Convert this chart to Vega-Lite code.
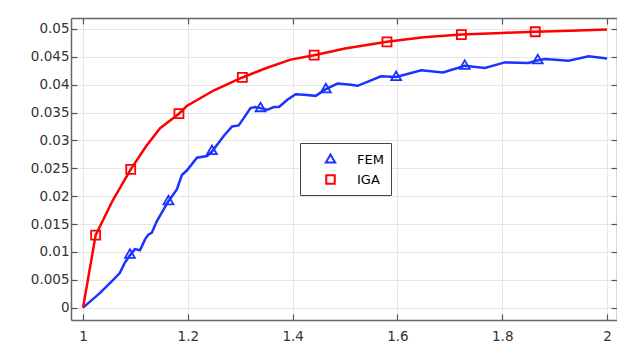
{
  "$schema": "https://vega.github.io/schema/vega-lite/v6.json",
  "width": 546,
  "height": 302,
  "autosize": "none",
  "padding": {"left": 71, "top": 18, "right": 0, "bottom": 25},
  "background": "white",
  "config": {
    "view": {"stroke": null},
    "font": "DejaVu Sans",
    "axis": {
      "labelFont": "DejaVu Sans",
      "labelFontSize": 13.5,
      "labelColor": "#333333",
      "domainColor": "#666666",
      "domainWidth": 1.5,
      "tickColor": "#555555",
      "tickWidth": 1.2,
      "tickSize": -6,
      "gridColor": "#e6e6e6",
      "gridWidth": 1,
      "title": null
    }
  },
  "datasets": {
    "curves": [
      {"x": 1.000, "y": 0.0000, "series": "FEM"},
      {"x": 1.032, "y": 0.0026, "series": "FEM"},
      {"x": 1.0575, "y": 0.0050, "series": "FEM"},
      {"x": 1.070, "y": 0.0062, "series": "FEM"},
      {"x": 1.080, "y": 0.0081, "series": "FEM"},
      {"x": 1.0895, "y": 0.0094, "series": "FEM"},
      {"x": 1.099, "y": 0.0105, "series": "FEM"},
      {"x": 1.1087, "y": 0.0103, "series": "FEM"},
      {"x": 1.118, "y": 0.0122, "series": "FEM"},
      {"x": 1.1246, "y": 0.0131, "series": "FEM"},
      {"x": 1.131, "y": 0.0134, "series": "FEM"},
      {"x": 1.1407, "y": 0.0155, "series": "FEM"},
      {"x": 1.150, "y": 0.0170, "series": "FEM"},
      {"x": 1.163, "y": 0.0191, "series": "FEM"},
      {"x": 1.179, "y": 0.0212, "series": "FEM"},
      {"x": 1.1886, "y": 0.0238, "series": "FEM"},
      {"x": 1.198, "y": 0.0246, "series": "FEM"},
      {"x": 1.2174, "y": 0.0269, "series": "FEM"},
      {"x": 1.2365, "y": 0.0272, "series": "FEM"},
      {"x": 1.246, "y": 0.0280, "series": "FEM"},
      {"x": 1.2588, "y": 0.0296, "series": "FEM"},
      {"x": 1.2684, "y": 0.0308, "series": "FEM"},
      {"x": 1.2845, "y": 0.0325, "series": "FEM"},
      {"x": 1.297, "y": 0.0327, "series": "FEM"},
      {"x": 1.3067, "y": 0.0340, "series": "FEM"},
      {"x": 1.3195, "y": 0.0358, "series": "FEM"},
      {"x": 1.329, "y": 0.0360, "series": "FEM"},
      {"x": 1.3387, "y": 0.0358, "series": "FEM"},
      {"x": 1.3515, "y": 0.0355, "series": "FEM"},
      {"x": 1.364, "y": 0.0360, "series": "FEM"},
      {"x": 1.374, "y": 0.0360, "series": "FEM"},
      {"x": 1.3898, "y": 0.0373, "series": "FEM"},
      {"x": 1.4058, "y": 0.0383, "series": "FEM"},
      {"x": 1.4217, "y": 0.0382, "series": "FEM"},
      {"x": 1.444, "y": 0.0380, "series": "FEM"},
      {"x": 1.4633, "y": 0.0392, "series": "FEM"},
      {"x": 1.4857, "y": 0.0402, "series": "FEM"},
      {"x": 1.511, "y": 0.0400, "series": "FEM"},
      {"x": 1.524, "y": 0.0398, "series": "FEM"},
      {"x": 1.5687, "y": 0.0415, "series": "FEM"},
      {"x": 1.5975, "y": 0.0414, "series": "FEM"},
      {"x": 1.6455, "y": 0.0426, "series": "FEM"},
      {"x": 1.687, "y": 0.0422, "series": "FEM"},
      {"x": 1.7285, "y": 0.0434, "series": "FEM"},
      {"x": 1.7668, "y": 0.0430, "series": "FEM"},
      {"x": 1.805, "y": 0.0440, "series": "FEM"},
      {"x": 1.850, "y": 0.0439, "series": "FEM"},
      {"x": 1.8677, "y": 0.0444, "series": "FEM"},
      {"x": 1.8817, "y": 0.0446, "series": "FEM"},
      {"x": 1.9265, "y": 0.0443, "series": "FEM"},
      {"x": 1.965, "y": 0.0451, "series": "FEM"},
      {"x": 2.000, "y": 0.0447, "series": "FEM"},
      {"x": 1.000, "y": 0.0000, "series": "IGA"},
      {"x": 1.024, "y": 0.0130, "series": "IGA"},
      {"x": 1.057, "y": 0.0193, "series": "IGA"},
      {"x": 1.091, "y": 0.0248, "series": "IGA"},
      {"x": 1.120, "y": 0.0289, "series": "IGA"},
      {"x": 1.147, "y": 0.0322, "series": "IGA"},
      {"x": 1.183, "y": 0.0348, "series": "IGA"},
      {"x": 1.198, "y": 0.0362, "series": "IGA"},
      {"x": 1.250, "y": 0.0390, "series": "IGA"},
      {"x": 1.304, "y": 0.0413, "series": "IGA"},
      {"x": 1.350, "y": 0.0430, "series": "IGA"},
      {"x": 1.396, "y": 0.0445, "series": "IGA"},
      {"x": 1.441, "y": 0.0453, "series": "IGA"},
      {"x": 1.500, "y": 0.0465, "series": "IGA"},
      {"x": 1.580, "y": 0.0477, "series": "IGA"},
      {"x": 1.650, "y": 0.0485, "series": "IGA"},
      {"x": 1.722, "y": 0.0490, "series": "IGA"},
      {"x": 1.800, "y": 0.0493, "series": "IGA"},
      {"x": 1.863, "y": 0.0495, "series": "IGA"},
      {"x": 1.930, "y": 0.0497, "series": "IGA"},
      {"x": 2.000, "y": 0.0499, "series": "IGA"}
    ],
    "markers": [
      {"x": 1.0895, "y": 0.0095, "method": "FEM"},
      {"x": 1.163, "y": 0.0191, "method": "FEM"},
      {"x": 1.246, "y": 0.0281, "method": "FEM"},
      {"x": 1.3387, "y": 0.0358, "method": "FEM"},
      {"x": 1.4633, "y": 0.0392, "method": "FEM"},
      {"x": 1.5975, "y": 0.0414, "method": "FEM"},
      {"x": 1.7285, "y": 0.0434, "method": "FEM"},
      {"x": 1.8677, "y": 0.0444, "method": "FEM"},
      {"x": 1.024, "y": 0.0130, "method": "IGA"},
      {"x": 1.091, "y": 0.0248, "method": "IGA"},
      {"x": 1.183, "y": 0.0348, "method": "IGA"},
      {"x": 1.304, "y": 0.0413, "method": "IGA"},
      {"x": 1.441, "y": 0.0453, "method": "IGA"},
      {"x": 1.580, "y": 0.0477, "method": "IGA"},
      {"x": 1.722, "y": 0.0490, "method": "IGA"},
      {"x": 1.863, "y": 0.0495, "method": "IGA"}
    ]
  },
  "resolve": {"axis": {"x": "independent", "y": "independent"}},
  "layer": [
    {
      "data": {"name": "curves"},
      "mark": {"type": "line", "strokeWidth": 2.5, "clip": true},
      "encoding": {
        "x": {
          "field": "x", "type": "quantitative",
          "scale": {"domain": [0.977, 2.019], "nice": false, "zero": false},
          "axis": {"orient": "bottom", "values": [1, 1.2, 1.4, 1.6, 1.8, 2], "format": "~g", "grid": true, "labelPadding": 15, "domain": true}
        },
        "y": {
          "field": "y", "type": "quantitative",
          "scale": {"domain": [-0.00222, 0.05197], "nice": false, "zero": false},
          "axis": {"orient": "left", "values": [0, 0.005, 0.01, 0.015, 0.02, 0.025, 0.03, 0.035, 0.04, 0.045, 0.05], "format": "~g", "grid": true, "labelPadding": 8, "domain": true}
        },
        "color": {
          "field": "series", "type": "nominal",
          "scale": {"domain": ["FEM", "IGA"], "range": ["#1a33ff", "#ff0000"]},
          "legend": {
            "title": null,
            "orient": "none",
            "legendX": 229,
            "legendY": 125,
            "padding": 7,
            "rowPadding": 3,
            "strokeColor": "#444444",
            "fillColor": "white",
            "symbolSize": 289,
            "symbolStrokeWidth": 2,
            "symbolOffset": 14,
            "labelOffset": 17,
            "labelFont": "DejaVu Sans",
            "labelFontSize": 13,
            "labelColor": "#000000",
            "encode": {
              "symbols": {
                "update": {
                  "shape": {"value": {"expr": "datum.value === 'FEM' ? 'M-2.29,0L2.29,0M-0.45,0.21L0,-0.65L0.45,0.21Z' : 'M-2.29,0L2.29,0M-0.55,-0.47L0.55,-0.47L0.55,0.47L-0.55,0.47Z'"}},
                  "fill": {"value": "transparent"}
                }
              }
            }
          }
        }
      }
    },
    {
      "data": {"name": "markers"},
      "mark": {"type": "point", "filled": false, "strokeWidth": 1.8, "size": 324, "opacity": 1},
      "encoding": {
        "x": {
          "field": "x", "type": "quantitative",
          "axis": {"orient": "top", "values": [1, 1.2, 1.4, 1.6, 1.8, 2], "labels": false, "grid": false, "domain": true}
        },
        "y": {
          "field": "y", "type": "quantitative",
          "axis": {"orient": "right", "values": [0, 0.005, 0.01, 0.015, 0.02, 0.025, 0.03, 0.035, 0.04, 0.045, 0.05], "labels": false, "grid": false, "domain": true}
        },
        "stroke": {
          "field": "method", "type": "nominal",
          "scale": {"domain": ["FEM", "IGA"], "range": ["#1a33ff", "#ff0000"]},
          "legend": null
        },
        "shape": {
          "field": "method", "type": "nominal",
          "scale": {"domain": ["FEM", "IGA"], "range": ["M0,-0.6L0.55,0.35L-0.55,0.35Z", "M-0.5,-0.5L0.5,-0.5L0.5,0.5L-0.5,0.5Z"]},
          "legend": null
        }
      }
    }
  ]
}
